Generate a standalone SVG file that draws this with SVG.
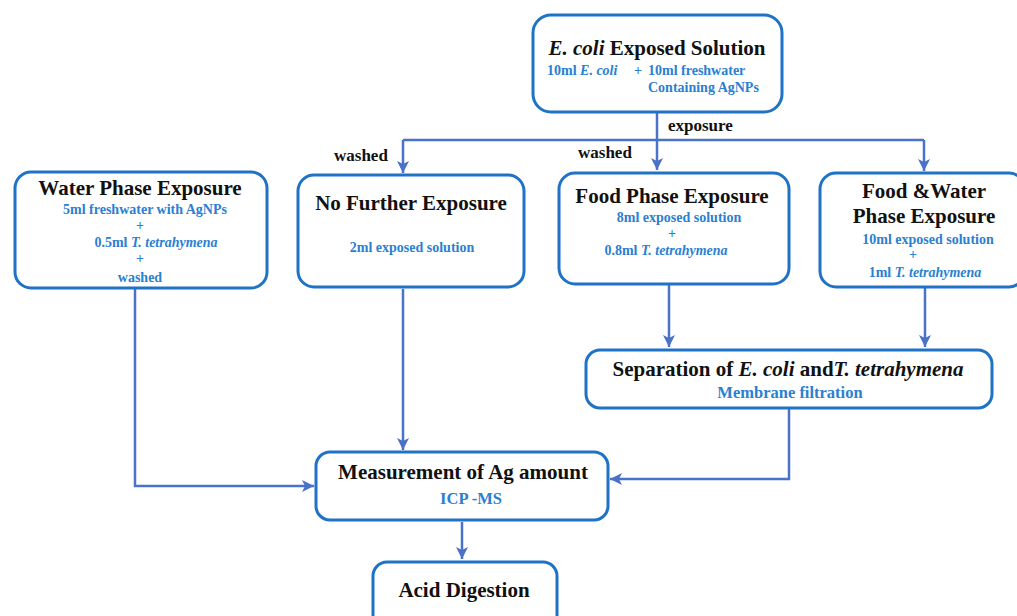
<svg xmlns="http://www.w3.org/2000/svg" width="1017" height="616" viewBox="0 0 1017 616">
<style>
.box{fill:#fff;stroke:#1f72c4;stroke-width:3}
.t{font-family:"Liberation Serif","Times New Roman",serif;font-weight:bold;font-size:21px;fill:#111;text-anchor:middle}
.s{font-family:"Liberation Serif","Times New Roman",serif;font-weight:bold;font-size:14px;fill:#2a80d2;text-anchor:middle}
.m{font-size:16.5px}
.lbl{font-family:"Liberation Serif","Times New Roman",serif;font-weight:bold;font-size:17px;fill:#111}
.i{font-style:italic}
.c{fill:none;stroke:#4a72c8;stroke-width:2.5}
</style>
<defs>
<marker id="ah" markerUnits="userSpaceOnUse" markerWidth="14" markerHeight="14" refX="12" refY="7" orient="auto">
<path d="M0,1 L12,7 L0,13 L3,7 z" fill="#4a72c8"/>
</marker>
</defs>
<g id="connectors">
<path class="c" d="M657,113 V170" marker-end="url(#ah)"/>
<path class="c" d="M403,140 H924"/>
<path class="c" d="M403,140 V173" marker-end="url(#ah)"/>
<path class="c" d="M924,140 V171" marker-end="url(#ah)"/>
<path class="c" d="M669,285 V347" marker-end="url(#ah)"/>
<path class="c" d="M925,288 V347" marker-end="url(#ah)"/>
<path class="c" d="M135,289 V486 H314" marker-end="url(#ah)"/>
<path class="c" d="M403,289 V450" marker-end="url(#ah)"/>
<path class="c" d="M789,409 V479 H610" marker-end="url(#ah)"/>
<path class="c" d="M462,522 V559" marker-end="url(#ah)"/>
<text class="lbl" x="668" y="131">exposure</text>
<text class="lbl" x="334" y="161">washed</text>
<text class="lbl" x="578" y="158">washed</text>
</g>
<g id="ecoli">
<rect class="box" x="533" y="15" width="249" height="97" rx="18"/>
<text class="t" x="657" y="55"><tspan class="i">E. coli</tspan> Exposed Solution</text>
<text class="s" x="547" y="75" text-anchor="start" style="text-anchor:start">10ml <tspan class="i">E. coli</tspan></text>
<text class="s" x="638" y="75" style="text-anchor:middle">+</text>
<text class="s" x="648" y="75" style="text-anchor:start">10ml freshwater</text>
<text class="s" x="648" y="92" style="text-anchor:start">Containing AgNPs</text>
</g>
<g id="water">
<rect class="box" x="15" y="172" width="252" height="116" rx="16"/>
<text class="t" x="140" y="195">Water Phase Exposure</text>
<text class="s" x="145" y="214">5ml freshwater with AgNPs</text>
<text class="s" x="140" y="230">+</text>
<text class="s" x="156" y="247">0.5ml <tspan class="i">T. tetrahymena</tspan></text>
<text class="s" x="140" y="263">+</text>
<text class="s" x="140" y="282">washed</text>
</g>
<g id="nofurther">
<rect class="box" x="298" y="175" width="226" height="112" rx="16"/>
<text class="t" x="411" y="210">No Further Exposure</text>
<text class="s" x="412" y="252">2ml exposed solution</text>
</g>
<g id="food">
<rect class="box" x="559" y="173" width="230" height="111" rx="16"/>
<text class="t" x="672" y="203">Food Phase Exposure</text>
<text class="s" x="679" y="222">8ml exposed solution</text>
<text class="s" x="672" y="238">+</text>
<text class="s" x="666" y="255">0.8ml <tspan class="i">T. tetrahymena</tspan></text>
</g>
<g id="foodwater">
<rect class="box" x="820" y="173" width="205" height="114" rx="16"/>
<text class="t" x="924" y="198">Food &amp;Water</text>
<text class="t" x="924" y="223">Phase Exposure</text>
<text class="s" x="928" y="244">10ml exposed solution</text>
<text class="s" x="913" y="259">+</text>
<text class="s" x="925" y="277">1ml <tspan class="i">T. tetrahymena</tspan></text>
</g>
<g id="separation">
<rect class="box" x="586" y="350" width="406" height="58" rx="14"/>
<text class="t" x="788" y="376">Separation of <tspan class="i">E. coli</tspan> and<tspan class="i">T. tetrahymena</tspan></text>
<text class="s m" x="790" y="398">Membrane filtration</text>
</g>
<g id="measurement">
<rect class="box" x="316" y="452" width="292" height="68" rx="14"/>
<text class="t" x="463" y="479">Measurement of Ag amount</text>
<text class="s m" x="471" y="504">ICP -MS</text>
</g>
<g id="acid">
<rect class="box" x="373" y="562" width="184" height="70" rx="14"/>
<text class="t" x="464" y="597">Acid Digestion</text>
</g>
</svg>
